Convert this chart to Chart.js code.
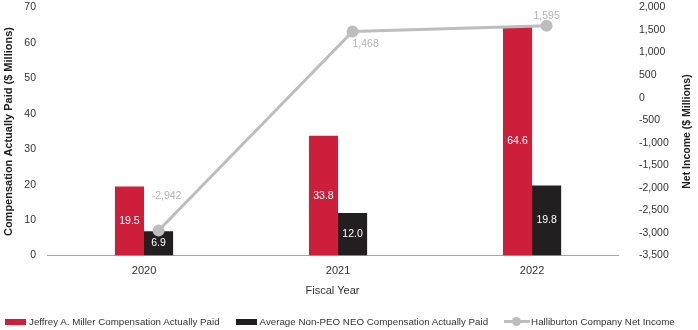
<!DOCTYPE html>
<html>
<head>
<meta charset="utf-8">
<script src="https://cdn.jsdelivr.net/npm/chart.js@4.4.1/dist/chart.umd.min.js"></script>
<style>
  html, body { margin: 0; padding: 0; background: #fff; }
  #wrap { position: relative; width: 698px; height: 330px; }
  #legend { position: absolute; left: 5px; top: 316px; display: flex; align-items: center;
    font: 9.75px "Liberation Sans", Arial, sans-serif; color: #333; white-space: nowrap; }
  #legend .item { display: flex; align-items: center; margin-right: 16px; }
  #legend .box { width: 21px; height: 6px; margin-right: 3px; }
  #legend .ln { position: relative; width: 26px; height: 3px; background: #bdbdbd; margin-right: 1px; }
  #legend .ln::after { content: ""; position: absolute; left: 8px; top: -3px; width: 9px; height: 9px;
    border-radius: 50%; background: #bdbdbd; }
</style>
</head>
<body>
<div id="wrap">
  <canvas id="chart" width="698" height="330"></canvas>
  <div id="legend"></div>
</div>
<script>
// data
const categories = ["2020", "2021", "2022"];
const millerPay = [19.5, 33.8, 64.6];
const neoPay = [6.9, 12.0, 19.8];
const netIncome = [-2942, 1468, 1595];
const leftTicks = [0, 10, 20, 30, 40, 50, 60, 70];
const rightTicks = [-3500, -3000, -2500, -2000, -1500, -1000, -500, 0, 500, 1000, 1500, 2000];

const RED = "#cd1f3b";
const BLACK = "#231f20";
const GRAY = "#bdbdbd";
const FONT = "'Liberation Sans', Arial, sans-serif";

Chart.defaults.font.family = FONT;
Chart.defaults.font.size = 10;
Chart.defaults.color = "#333";

// labels on bars and line points
const valueLabels = {
  id: "valueLabels",
  afterDatasetsDraw(chart) {
    const ctx = chart.ctx;
    ctx.save();
    ctx.textAlign = "center";
    ctx.textBaseline = "middle";
    chart.data.datasets.forEach((ds, di) => {
      const meta = chart.getDatasetMeta(di);
      meta.data.forEach((el, i) => {
        ctx.font = "10.5px " + FONT;
        if (ds.type === "line") {
          const off = [[8, -34], [13, 13], [0, -10]][i];
          ctx.fillStyle = "#b3b3b3";
          ctx.fillText(netIncome[i].toLocaleString("en-US"), el.x + off[0], el.y + off[1]);
        } else {
          ctx.fillStyle = "#fff";
          ctx.fillText(ds.data[i].y.toFixed(1), el.x, (el.y + el.base) / 2);
        }
      });
    });
    ctx.restore();
  }
};

// right axis title reads bottom to top
const rightTitle = {
  id: "rightTitle",
  afterDraw(chart) {
    const ctx = chart.ctx;
    const area = chart.chartArea;
    ctx.save();
    ctx.translate(687, (area.top + area.bottom) / 2);
    ctx.rotate(-Math.PI / 2);
    ctx.font = "bold 10.5px " + FONT;
    ctx.fillStyle = "#222";
    ctx.textAlign = "center";
    ctx.textBaseline = "middle";
    ctx.fillText("Net Income ($ Millions)", 0, 0);
    ctx.restore();
  }
};

const chart = new Chart(document.getElementById("chart"), {
  type: "bar",
  data: {
    datasets: [
      {
        type: "line",
        label: "Halliburton Company Net Income",
        data: netIncome.map((v, i) => ({ x: i, y: v })),
        xAxisID: "xLine",
        yAxisID: "yRight",
        borderColor: GRAY,
        backgroundColor: GRAY,
        borderWidth: 3,
        pointRadius: 4.5,
        pointHoverRadius: 4.5,
        order: 0
      },
      {
        label: "Jeffrey A. Miller Compensation Actually Paid",
        data: millerPay.map((v, i) => ({ x: i, y: v })),
        backgroundColor: RED,
        xAxisID: "x",
        yAxisID: "y",
        order: 1
      },
      {
        label: "Average Non-PEO NEO Compensation Actually Paid",
        data: neoPay.map((v, i) => ({ x: i, y: v })),
        backgroundColor: BLACK,
        xAxisID: "x",
        yAxisID: "y",
        order: 1
      }
    ]
  },
  options: {
    responsive: false,
    animation: false,
    devicePixelRatio: 1,
    layout: { padding: { top: 0, bottom: 32 } },
    datasets: { bar: { categoryPercentage: 0.6, barPercentage: 1, grouped: true } },
    plugins: { legend: { display: false }, tooltip: { enabled: false } },
    scales: {
      x: {
        type: "linear",
        min: -0.5,
        max: 2.443,
        offset: false,
        grid: { display: false, drawTicks: false, offset: false },
        border: { display: true, color: "#a6a6a6", width: 1 },
        afterBuildTicks: s => { s.ticks = categories.map((c, i) => ({ value: i })); },
        ticks: { padding: 9, color: "#333", font: { size: 11 }, callback: v => categories[Math.round(v)] },
        title: { display: true, text: "Fiscal Year", color: "#333", font: { size: 11 }, padding: { top: -2, bottom: 0 } }
      },
      xLine: {
        type: "linear",
        position: "bottom",
        min: -0.575,
        max: 2.368,
        offset: false,
        grid: { display: false, drawTicks: false, offset: false },
        border: { display: false },
        ticks: { display: false },
        afterFit: s => { s.height = 0; }
      },
      y: {
        position: "left",
        min: 0,
        max: 70,
        grid: { display: false, drawTicks: true, tickLength: 11 },
        border: { display: false },
        afterBuildTicks: s => { s.ticks = leftTicks.map(v => ({ value: v })); },
        ticks: { padding: 0, color: "#333", font: { size: 10.5 } },
        title: { display: true, text: "Compensation Actually Paid ($ Millions)", color: "#222",
          font: { size: 11, weight: "bold" }, padding: { top: 2, bottom: 0 } },
        afterFit: s => { s.width = 47; }
      },
      yRight: {
        position: "right",
        min: -3500,
        max: 2000,
        grid: { display: false, drawTicks: true, tickLength: 21 },
        border: { display: false },
        afterBuildTicks: s => { s.ticks = rightTicks.map(v => ({ value: v })); },
        ticks: { padding: 0, color: "#333", font: { size: 10.5 }, callback: v => v.toLocaleString("en-US") },
        afterFit: s => { s.width = 80; }
      }
    }
  },
  plugins: [valueLabels, rightTitle]
});

// html legend
const legendEl = document.getElementById("legend");
[
  { text: "Jeffrey A. Miller Compensation Actually Paid", color: RED },
  { text: "Average Non-PEO NEO Compensation Actually Paid", color: BLACK },
  { text: "Halliburton Company Net Income", line: true }
].forEach(it => {
  const item = document.createElement("div");
  item.className = "item";
  const sw = document.createElement("span");
  if (it.line) { sw.className = "ln"; } else { sw.className = "box"; sw.style.background = it.color; }
  const t = document.createElement("span");
  t.textContent = it.text;
  item.appendChild(sw);
  item.appendChild(t);
  legendEl.appendChild(item);
});
</script>
</body>
</html>
